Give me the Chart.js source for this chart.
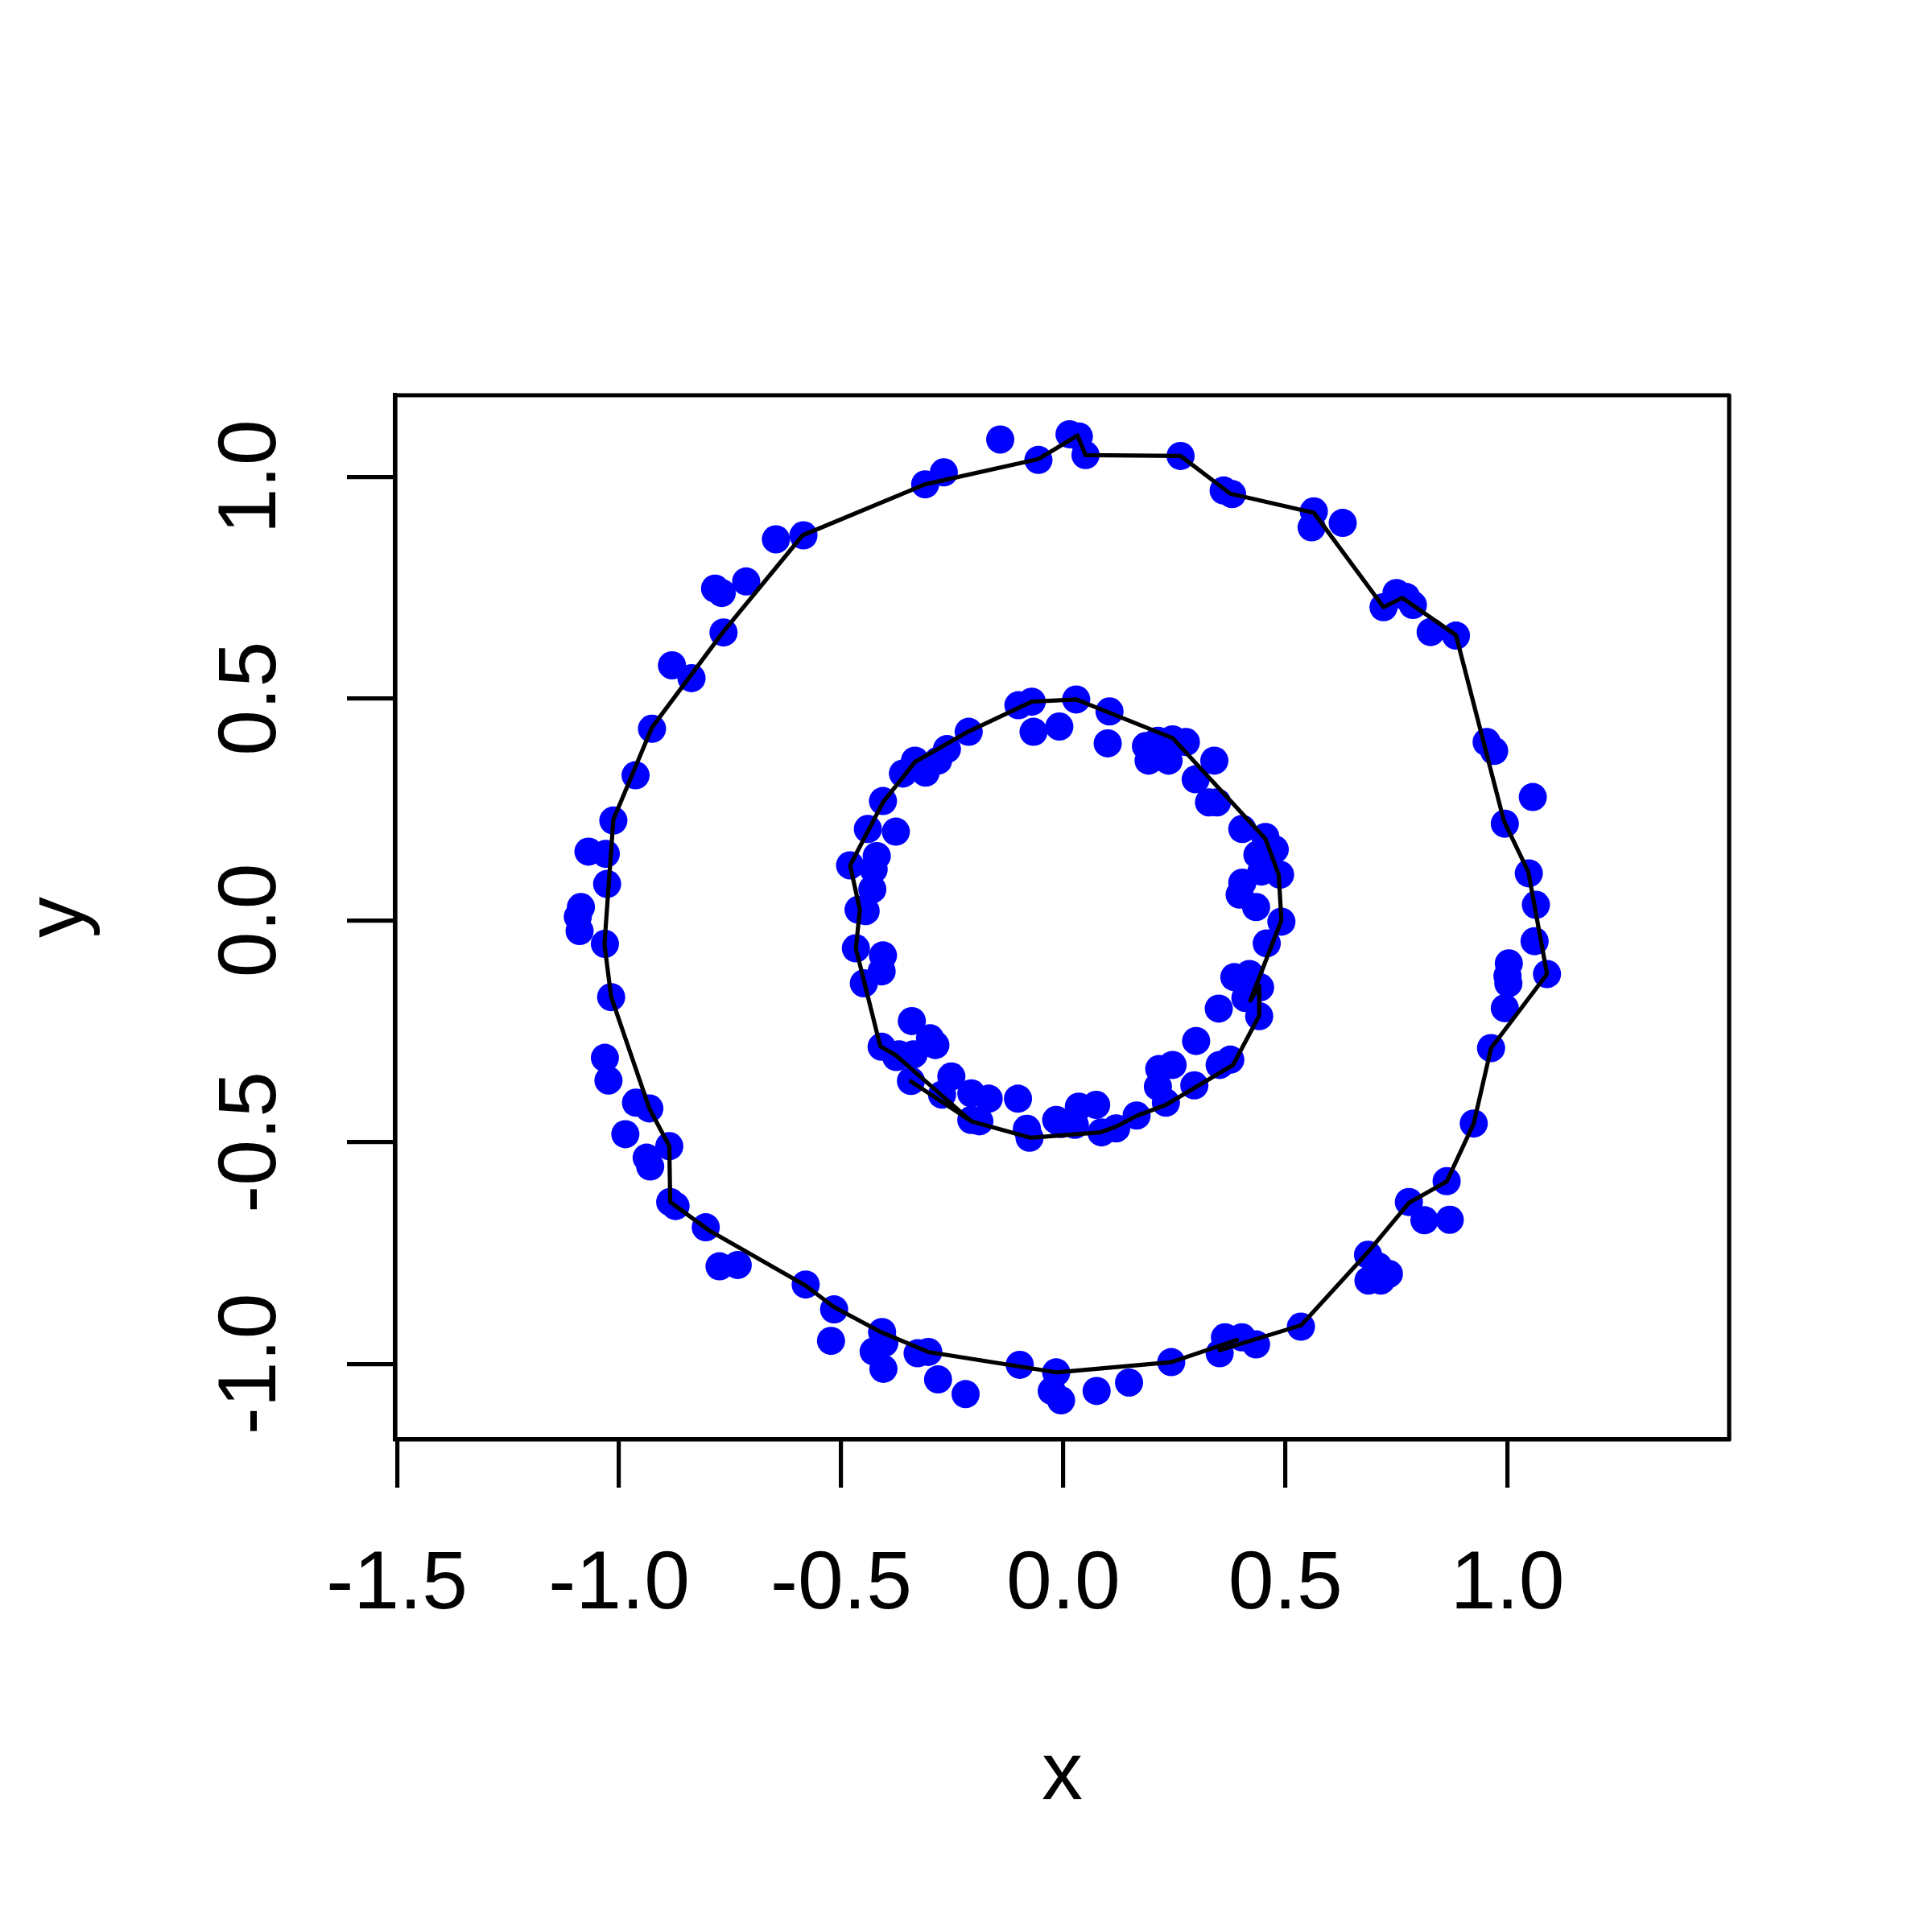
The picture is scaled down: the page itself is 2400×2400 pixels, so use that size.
<!DOCTYPE html>
<html><head><meta charset="utf-8">
<script src="https://cdn.jsdelivr.net/npm/chart.js@4/dist/chart.umd.min.js"></script>
<style>html,body{margin:0;padding:0;background:#fff}#wrap{width:2400px;height:2400px}</style>
</head><body><div id="wrap"><canvas id="c" width="2400" height="2400"></canvas></div>
<script>
// ---- data ----
const xTicks = [-1.5, -1.0, -0.5, 0.0, 0.5, 1.0];
const yTicks = [-1.0, -0.5, 0.0, 0.5, 1.0];
const xTitle = 'x';
const yTitle = 'y';

const outerPtsX = [-0.647,-0.585,-0.784,-0.769,-0.714,-0.765,-0.881,-0.837,-0.926,
 -0.311,-0.269,-0.142,-0.056,0.014,0.035,0.050,0.264,0.361,0.380,
 0.564,0.559,0.629,0.721,0.750,0.772,0.787,0.827,0.884,0.953,0.970,
 1.057,0.994,1.048,1.064,1.061,1.089,1.003,1.000,1.002,0.994,0.963,
 0.924,0.863,0.870,0.813,0.778,0.733,0.715,0.687,0.686,0.709,0.535,0.434,0.402,0.364,0.352,
 0.243,0.148,0.075,-0.005,-0.026,-0.016,-0.098,-0.220,-0.282,-0.304,-0.328,
 -0.408,-0.403,-0.427,-0.405,-0.523,-0.516,-0.580,-0.733,-0.774,-0.805,-0.873,-0.885,-0.930,-0.938,-0.887,-0.986,-0.932,-0.962,
 -0.963,-1.013,-1.069,-1.030,-1.027,-1.086,-1.093,-1.089,-1.032,-1.018,-1.032,-1.024];
const outerPtsY = [0.859,0.868,0.748,0.738,0.764,0.649,0.575,0.546,0.432,
 0.983,1.010,1.084,1.038,1.096,1.091,1.049,1.047,0.969,0.961,
 0.922,0.886,0.896,0.706,0.738,0.729,0.711,0.650,0.642,0.402,0.382,
 0.278,0.218,0.106,0.035,-0.047,-0.121,-0.097,-0.125,-0.142,-0.198,-0.288,
 -0.458,-0.588,-0.675,-0.676,-0.635,-0.797,-0.812,-0.812,-0.754,-0.780,-0.916,-0.956,-0.940,-0.940,-0.976,
 -0.996,-1.042,-1.061,-1.082,-1.061,-1.019,-1.002,-1.068,-1.035,-0.973,-0.976,
 -0.928,-0.953,-0.972,-1.011,-0.948,-0.877,-0.821,-0.777,-0.780,-0.692,-0.644,-0.635,-0.555,-0.535,-0.509,-0.482,-0.424,-0.411,
 0.327,0.225,0.155,0.150,0.082,0.030,0.008,-0.024,-0.053,-0.173,-0.310,-0.361];

const innerPtsX = [-0.361,-0.334,-0.310,-0.282,-0.262,-0.213,-0.406,-0.440,-0.377,-0.420,-0.480,-0.427,-0.430,-0.461,-0.445,-0.467,-0.406,-0.409,-0.449,-0.409,-0.376,
 -0.101,-0.071,0.029,0.104,-0.067,-0.009,0.100,0.186,0.213,0.246,0.276,
 0.192,0.237,0.340,0.298,0.328,0.346,
 0.403,0.455,0.476,0.437,0.488,0.446,0.403,0.397,0.434,0.491,0.458,
 0.385,0.419,0.443,0.441,0.410,0.350,0.299,0.376,0.352,0.246,0.216,0.213,0.295,0.231,
 0.165,0.119,0.086,0.074,0.035,0.026,-0.005,-0.016,-0.076,-0.082,-0.102,-0.168,-0.189,-0.207,-0.207,-0.252,-0.273,-0.343,-0.288,-0.300,-0.341,-0.370,-0.337];
const innerPtsY = [0.331,0.360,0.333,0.360,0.386,0.425,0.269,0.206,0.200,0.145,0.124,0.115,0.070,0.024,0.021,-0.063,-0.079,-0.115,-0.142,-0.285,-0.308,
 0.485,0.493,0.498,0.471,0.425,0.437,0.399,0.393,0.405,0.408,0.402,
 0.360,0.360,0.360,0.318,0.266,0.266,
 0.206,0.188,0.160,0.148,0.103,0.110,0.085,0.058,0.030,-0.003,-0.052,
 -0.128,-0.121,-0.151,-0.216,-0.175,-0.199,-0.272,-0.314,-0.326,-0.326,-0.335,-0.375,-0.372,-0.411,
 -0.440,-0.469,-0.478,-0.416,-0.420,-0.461,-0.459,-0.450,-0.490,-0.470,-0.402,-0.402,-0.453,-0.450,-0.390,-0.352,-0.393,-0.362,-0.281,-0.266,-0.227,-0.302,-0.302];

const outerCurveX = [0.391,0.243,-0.016,-0.304,-0.409,-0.516,-0.581,-0.799,-0.885,-0.887,-0.932,-1.018,-1.033,-1.013,-0.926,-0.766,-0.587,-0.311,-0.056,0.032,0.050,0.264,0.376,0.564,0.721,0.763,0.884,0.992,1.047,1.089,0.963,0.924,0.863,0.778,0.684,0.535,0.352];
const outerCurveY = [-0.946,-0.996,-1.019,-0.973,-0.929,-0.872,-0.823,-0.698,-0.635,-0.509,-0.424,-0.172,-0.054,0.227,0.435,0.650,0.868,0.983,1.040,1.093,1.049,1.047,0.962,0.919,0.706,0.727,0.643,0.224,0.109,-0.121,-0.288,-0.458,-0.589,-0.637,-0.750,-0.913,-0.969];

const innerCurveX = [-0.343,-0.207,-0.074,0.083,0.119,0.165,0.231,0.382,0.441,0.441,0.421,0.491,0.485,0.455,0.246,0.029,-0.071,-0.213,-0.334,-0.406,-0.480,-0.458,-0.467,-0.412,-0.376,-0.207];
const innerCurveY = [-0.363,-0.453,-0.490,-0.478,-0.465,-0.441,-0.416,-0.326,-0.215,-0.148,-0.181,0.000,0.103,0.184,0.411,0.498,0.493,0.426,0.357,0.266,0.124,0.024,-0.063,-0.284,-0.305,-0.453];

// ---- chart ----
const zip = (xs, ys) => xs.map((x, i) => ({x: x, y: ys[i]}));
const BLUE = '#0000FF', BLACK = '#000000', LW = 5.2;
const FONT = {family: "'Liberation Sans', Arial, Helvetica, sans-serif", size: 102};

const ptStyle = {showLine: false, pointRadius: 17.5, pointHoverRadius: 17.5, pointBackgroundColor: BLUE, pointBorderWidth: 0, borderWidth: 0, order: 2};
const lnStyle = {showLine: true, pointRadius: 0, pointHoverRadius: 0, borderColor: BLACK, borderWidth: LW, tension: 0, borderCapStyle: 'round', borderJoinStyle: 'round', fill: false, order: 1};

const boxPlugin = {
  id: 'rbox',
  beforeDatasetsDraw(chart) {
    const {ctx, chartArea: a} = chart;
    ctx.save();
    ctx.strokeStyle = BLACK; ctx.lineWidth = LW; ctx.lineJoin = 'round';
    ctx.strokeRect(a.left, a.top, a.right - a.left, a.bottom - a.top);
    ctx.restore();
  }
};

new Chart(document.getElementById('c'), {
  type: 'scatter',
  data: {datasets: [
    Object.assign({data: zip(outerPtsX, outerPtsY)}, ptStyle),
    Object.assign({data: zip(innerPtsX, innerPtsY)}, ptStyle),
    Object.assign({data: zip(outerCurveX, outerCurveY)}, lnStyle),
    Object.assign({data: zip(innerCurveX, innerCurveY)}, lnStyle)
  ]},
  options: {
    responsive: false, animation: false, devicePixelRatio: 1, events: [],
    layout: {padding: {left: 0, top: 491, right: 252, bottom: 0}},
    plugins: {legend: {display: false}, tooltip: {enabled: false}},
    scales: {
      x: {
        type: 'linear', position: 'bottom', min: -1.504, max: 1.499,
        afterBuildTicks: s => { s.ticks = xTicks.map(v => ({value: v})); },
        afterFit: s => { s.height = 612; },
        grid: {display: true, drawOnChartArea: false, drawTicks: true, tickLength: 60, tickWidth: LW, tickColor: BLACK, color: BLACK, lineWidth: LW},
        border: {display: true, color: BLACK, width: LW},
        ticks: {color: BLACK, font: FONT, padding: 61, maxRotation: 0, minRotation: 0, autoSkip: false, callback: v => Number(v).toFixed(1)},
        title: {display: true, text: xTitle, color: BLACK, font: FONT, padding: {top: 0, bottom: 132}}
      },
      y: {
        type: 'linear', position: 'left', min: -1.170, max: 1.1838,
        afterBuildTicks: s => { s.ticks = yTicks.map(v => ({value: v})); },
        afterFit: s => { s.width = 491; },
        grid: {display: true, drawOnChartArea: false, drawTicks: true, tickLength: 60, tickWidth: LW, tickColor: BLACK, color: BLACK, lineWidth: LW},
        border: {display: true, color: BLACK, width: LW},
        ticks: {color: BLACK, font: FONT, padding: 29.4, minRotation: 90, maxRotation: 90, crossAlign: 'center', autoSkip: false, callback: v => Number(v).toFixed(1)},
        title: {display: true, text: yTitle, color: BLACK, font: FONT, padding: {top: 13.5, bottom: 0}}
      }
    }
  },
  plugins: [boxPlugin]
});
</script></body></html>
